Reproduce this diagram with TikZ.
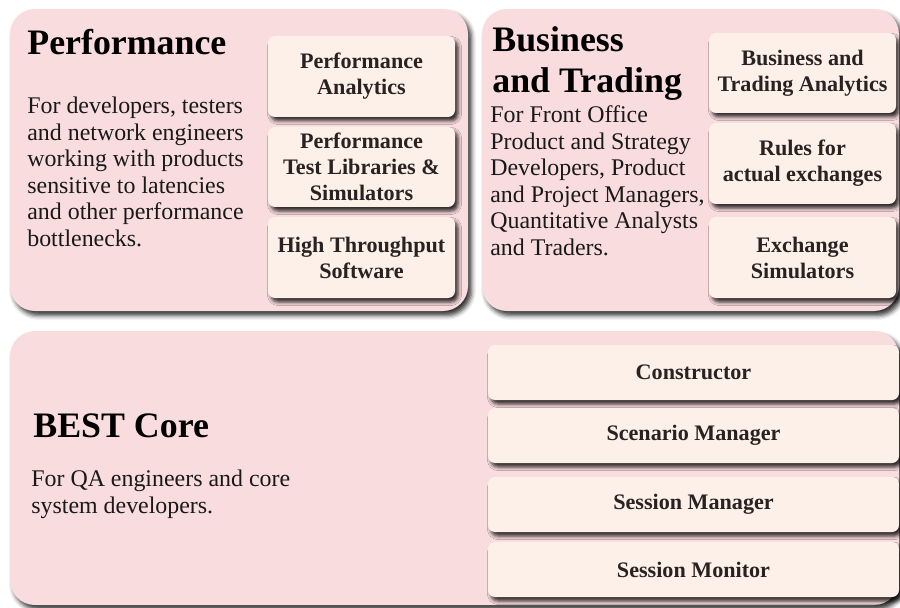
\documentclass[tikz,border=0pt]{standalone}
\usepackage{fontspec}
\setmainfont{Liberation Serif}
\usetikzlibrary{shadows.blur}
\definecolor{panelpink}{RGB}{249,220,222}
\definecolor{cardcream}{RGB}{253,240,232}
\definecolor{cardink}{RGB}{40,34,34}

\begin{document}
\begin{tikzpicture}[x=0.02cm, y=-0.02cm,
	panel/.style={fill=panelpink, rounded corners=0.5cm, blur shadow={shadow xshift=0.07cm, shadow yshift=-0.09cm, shadow blur radius=0.09cm, shadow opacity=80}},
	card/.style={fill=cardcream, rounded corners=0.14cm, blur shadow={shadow xshift=0.06cm, shadow yshift=-0.08cm, shadow blur radius=0.07cm, shadow opacity=80}},
	cardtext/.style={align=center, text=cardink, inner sep=0pt, font=\fontsize{12.6}{14.8}\selectfont\bfseries},
	heading/.style={anchor=base west, inner sep=0pt, align=left, font=\fontsize{20.4}{23.4}\selectfont\bfseries},
	blurb/.style={anchor=base west, inner sep=0pt, align=left, text=black!90, font=\fontsize{13.6}{15.1}\selectfont}]
	\useasboundingbox (0,0) rectangle (900,608);
	% the three panels
	\fill[panel] (10,9) rectangle (468,311);
	\fill[panel] (482,9) rectangle (899,311);
	\fill[panel] (10,331) rectangle (899,605);

	% Performance (base anchor = last line)
	\node[heading] (perftitle) at (27,55) {Performance};
	\node[blurb] (perftext) at (27,246.5) {For developers, testers\\and network engineers\\working with products\\sensitive to latencies\\and other performance\\bottlenecks.};
	\fill[card] (268,36) rectangle (455,117);
	\fill[card] (268,127) rectangle (455,207);
	\fill[card] (268,217) rectangle (455,298);
	\node[cardtext] (perfan) at (361.5,76.5) {Performance\\Analytics};
	\node[cardtext] (perflib) at (361.5,167) {Performance\\Test Libraries \&\\Simulators};
	\node[cardtext] (perfsw) at (361.5,257.5) {High Throughput\\Software};

	% Business and Trading
	\node[heading] (bustitle) at (492,93) {Business\\and Trading};
	\node[blurb] (bustext) at (490,255.5) {For Front Office\\Product and Strategy\\Developers, Product\\and Project Managers,\\Quantitative Analysts\\and Traders.};
	\fill[card] (709,33) rectangle (896,113);
	\fill[card] (709,123) rectangle (896,204);
	\fill[card] (709,217) rectangle (896,298);
	\node[cardtext] (busan) at (802.5,73) {Business and\\Trading Analytics};
	\node[cardtext] (busrules) at (802.5,163.5) {Rules for\\actual exchanges};
	\node[cardtext] (bussim) at (802.5,257.5) {Exchange\\Simulators};

	% BEST Core
	\node[heading] (coretitle) at (33,437) {BEST Core};
	\node[blurb] (coretext) at (31,513.5) {For QA engineers and core\\system developers.};
	\foreach \top/\name/\label in {345/constr/Constructor, 408/scen/Scenario Manager, 477/sesman/Session Manager, 542/sesmon/Session Monitor} {
		\fill[card] (488,\top) rectangle (899,\top+55);
		\node[cardtext] (\name) at (693.5,\top+27.5) {\label};
	}
\end{tikzpicture}
\end{document}
